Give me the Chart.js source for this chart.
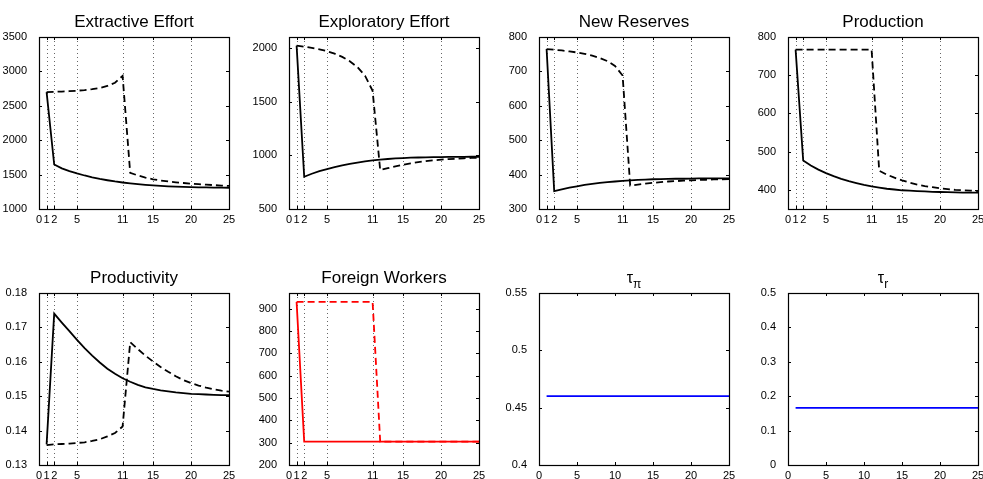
<!DOCTYPE html>
<html>
<head>
<meta charset="utf-8">
<script src="https://cdn.jsdelivr.net/npm/chart.js@4"></script>
<style>
  html, body { margin: 0; padding: 0; background: #fff; overflow: hidden; }
  #fig { position: relative; width: 983px; height: 479px; overflow: hidden; }
  #fig canvas { position: absolute; }
</style>
</head>
<body>
<div id="fig"></div>
<script>
// periods after the shock
const periods = [1,2,3,4,5,6,7,8,9,10,11,12,13,14,15,16,17,18,19,20,21,22,23,24,25];

const xTicksShock = [0,1,2,5,11,15,20,25];
const xGridShock = [1,2,5,11,15,20];
const xTicksPlain = [0,5,10,15,20,25];

const extractiveSolid = [2700,1647,1590,1550,1517,1487,1461,1438,1418,1400,1385,1372,1361,1351,1343,1336,1330,1325,1321,1318,1315,1313,1311,1310,1309];
const extractiveDashed = [2700,2703,2707,2712,2719,2729,2742,2760,2788,2835,2935,1525,1488,1457,1432,1414,1400,1388,1378,1369,1361,1354,1347,1341,1336];

const exploratorySolid = [2020,800,828,852,872,890,906,920,932,943,952,959,965,970,974,977,979,981,982,983,984,985,985,986,986];
const exploratoryDashed = [2020,2010,1998,1985,1968,1945,1915,1875,1820,1740,1600,862,880,897,912,925,936,945,953,959,964,968,972,975,977];

const reservesSolid = [765,352,357,362,366,370,373,376,378,380,382,383.5,384.5,385.5,386.5,387,387.5,388,388,388.5,389,389,389,389,389];
const reservesDashed = [765,763,761,758,755,751,746,739,730,716,688,368,371,374,376,378,380,381,382.5,383.5,384.5,385,386,386.5,387];

const productionSolid = [767,477,464,453,444,436,429,423,418,413,409,406,403,401,399,398,397,396,395,394.5,394,393.5,393,393,393];
const productionDashed = [767,767,767,767,767,767,767,767,767,767,767,450,440,432,425,419,414,410,407,404,402,400,399,398,397];

const productivitySolid = [0.136,0.1740,0.1714,0.1689,0.1664,0.1640,0.1618,0.1598,0.1580,0.1565,0.1552,0.1542,0.1533,0.1526,0.1521,0.1517,0.1514,0.1511,0.1509,0.1507,0.1506,0.1505,0.1504,0.1503,0.1503];
const productivityDashed = [0.1358,0.1360,0.1361,0.1362,0.1364,0.1366,0.1370,0.1375,0.1383,0.1393,0.1412,0.1657,0.1637,0.1618,0.1601,0.1585,0.1571,0.1558,0.1547,0.1538,0.1531,0.1525,0.1520,0.1516,0.1513];

const workersSolid = [930,305,305,305,305,305,305,305,305,305,305,305,305,305,305,305,305,305,305,305,305,305,305,305,305];
const workersDashed = [930,930,930,930,930,930,930,930,930,930,930,305,305,305,305,305,305,305,305,305,305,305,305,305,305];

const tauPi = [0.46,0.46,0.46,0.46,0.46,0.46,0.46,0.46,0.46,0.46,0.46,0.46,0.46,0.46,0.46,0.46,0.46,0.46,0.46,0.46,0.46,0.46,0.46,0.46,0.46];
const tauR = [0.166,0.166,0.166,0.166,0.166,0.166,0.166,0.166,0.166,0.166,0.166,0.166,0.166,0.166,0.166,0.166,0.166,0.166,0.166,0.166,0.166,0.166,0.166,0.166,0.166];

const yTicksExtractive = [1000,1500,2000,2500,3000,3500];
const yTicksExploratory = [500,1000,1500,2000];
const yTicksReserves = [300,400,500,600,700,800];
const yTicksProduction = [400,500,600,700,800];
const yTicksProductivity = [0.13,0.14,0.15,0.16,0.17,0.18];
const yTicksWorkers = [200,300,400,500,600,700,800,900];
const yTicksTauPi = [0.4,0.45,0.5,0.55];
const yTicksTauR = [0,0.1,0.2,0.3,0.4,0.5];

const FONT = '"Liberation Sans", Arial, sans-serif';

// box, inner ticks, dotted grid and title drawn matlab style
const matlabAxes = {
  id: 'matlabAxes',
  beforeDatasetsDraw(chart, args, opts) {
    const { ctx, chartArea: a, scales: { x } } = chart;
    ctx.save();
    ctx.strokeStyle = '#666';
    ctx.lineWidth = 1;
    ctx.setLineDash([1, 3]);
    opts.grid.forEach(v => {
      const px = Math.round(x.getPixelForValue(v)) + 0.5;
      ctx.beginPath();
      ctx.moveTo(px, a.top);
      ctx.lineTo(px, a.bottom);
      ctx.stroke();
    });
    ctx.restore();
  },
  afterDraw(chart, args, opts) {
    const { ctx, chartArea: a, scales: { x, y } } = chart;
    ctx.save();
    ctx.strokeStyle = '#000';
    ctx.lineWidth = 1.2;
    ctx.strokeRect(Math.round(a.left) + 0.5, Math.round(a.top) + 0.5,
      Math.round(a.right - a.left), Math.round(a.bottom - a.top));
    ctx.lineWidth = 1;
    const t = 3;
    x.ticks.forEach(tk => {
      const px = Math.round(x.getPixelForValue(tk.value)) + 0.5;
      ctx.beginPath();
      ctx.moveTo(px, a.bottom); ctx.lineTo(px, a.bottom - t);
      ctx.moveTo(px, a.top); ctx.lineTo(px, a.top + t);
      ctx.stroke();
    });
    y.ticks.forEach(tk => {
      const py = Math.round(y.getPixelForValue(tk.value)) + 0.5;
      ctx.beginPath();
      ctx.moveTo(a.left, py); ctx.lineTo(a.left + t, py);
      ctx.moveTo(a.right, py); ctx.lineTo(a.right - t, py);
      ctx.stroke();
    });
    ctx.fillStyle = '#000';
    ctx.textBaseline = 'alphabetic';
    const cx = (a.left + a.right) / 2;
    if (opts.sub) {
      ctx.font = '16px ' + FONT;
      const w1 = ctx.measureText(opts.title).width;
      ctx.font = '12px ' + FONT;
      const w2 = ctx.measureText(opts.sub).width;
      const x0 = cx - (w1 + w2) / 2;
      ctx.textAlign = 'left';
      ctx.font = '16px ' + FONT;
      ctx.fillText(opts.title, x0, a.top - 10);
      ctx.font = '12px ' + FONT;
      ctx.fillText(opts.sub, x0 + w1, a.top - 5);
    } else {
      ctx.font = '17px ' + FONT;
      ctx.textAlign = 'center';
      ctx.fillText(opts.title, cx, a.top - 10);
    }
    ctx.restore();
  }
};

const colLeft = [39, 289, 539, 788];
const rowTop = [37, 293];
const plotW = 190;
const padL = 40, padT = 40, axisH = 22, padR = 8;
const plotH = 172;

function line(data, color, dashed) {
  return {
    data: data,
    borderColor: color,
    borderWidth: 1.8,
    borderDash: dashed ? [7, 4] : [],
    pointRadius: 0,
    tension: 0,
    fill: false
  };
}

function makePanel(p) {
  const canvas = document.createElement('canvas');
  const w = padL + plotW + padR, h = padT + plotH + axisH;
  canvas.width = w; canvas.height = h;
  canvas.style.width = w + 'px'; canvas.style.height = h + 'px';
  canvas.style.left = (colLeft[p.col] - padL) + 'px';
  canvas.style.top = (rowTop[p.row] - padT) + 'px';
  document.getElementById('fig').appendChild(canvas);

  const datasets = [];
  if (p.dashed) datasets.push(line(p.dashed, p.color, true));
  datasets.push(line(p.solid, p.color, false));

  new Chart(canvas.getContext('2d'), {
    type: 'line',
    data: { labels: periods, datasets: datasets.map(d => ({ ...d, data: d.data.map((v, i) => ({ x: periods[i], y: v })) })) },
    options: {
      responsive: false,
      animation: false,
      devicePixelRatio: 1,
      layout: { padding: { left: 0, top: padT, right: padR, bottom: 0 } },
      plugins: {
        legend: { display: false },
        tooltip: { enabled: false },
        matlabAxes: { title: p.title, sub: p.sub, grid: p.grid }
      },
      scales: {
        x: {
          type: 'linear', min: 0, max: 25,
          grid: { display: false }, border: { display: false },
          afterBuildTicks: s => { s.ticks = p.xTicks.map(v => ({ value: v })); },
          afterFit: s => { s.height = axisH; },
          ticks: { autoSkip: false, maxRotation: 0, minRotation: 0, padding: -4, color: '#000',
            font: { family: FONT, size: 11 }, callback: v => String(v) }
        },
        y: {
          type: 'linear', min: p.yMin, max: p.yMax,
          grid: { display: false }, border: { display: false },
          afterBuildTicks: s => { s.ticks = p.yTicks.map(v => ({ value: v })); },
          afterFit: s => { s.width = padL; },
          ticks: { autoSkip: false, padding: 4, color: '#000',
            font: { family: FONT, size: 11 }, callback: v => String(v) }
        }
      }
    },
    plugins: [matlabAxes]
  });
}

const panels = [
  { title: 'Extractive Effort', row: 0, col: 0, solid: extractiveSolid, dashed: extractiveDashed, color: '#000',
    yMin: 1000, yMax: 3500, yTicks: yTicksExtractive, xTicks: xTicksShock, grid: xGridShock },
  { title: 'Exploratory Effort', row: 0, col: 1, solid: exploratorySolid, dashed: exploratoryDashed, color: '#000',
    yMin: 500, yMax: 2100, yTicks: yTicksExploratory, xTicks: xTicksShock, grid: xGridShock },
  { title: 'New Reserves', row: 0, col: 2, solid: reservesSolid, dashed: reservesDashed, color: '#000',
    yMin: 300, yMax: 800, yTicks: yTicksReserves, xTicks: xTicksShock, grid: xGridShock },
  { title: 'Production', row: 0, col: 3, solid: productionSolid, dashed: productionDashed, color: '#000',
    yMin: 350, yMax: 800, yTicks: yTicksProduction, xTicks: xTicksShock, grid: xGridShock },
  { title: 'Productivity', row: 1, col: 0, solid: productivitySolid, dashed: productivityDashed, color: '#000',
    yMin: 0.13, yMax: 0.18, yTicks: yTicksProductivity, xTicks: xTicksShock, grid: xGridShock },
  { title: 'Foreign Workers', row: 1, col: 1, solid: workersSolid, dashed: workersDashed, color: '#ff0000',
    yMin: 200, yMax: 970, yTicks: yTicksWorkers, xTicks: xTicksShock, grid: xGridShock },
  { title: 'τ', sub: 'π', row: 1, col: 2, solid: tauPi, color: '#0000ff',
    yMin: 0.4, yMax: 0.55, yTicks: yTicksTauPi, xTicks: xTicksPlain, grid: [] },
  { title: 'τ', sub: 'r', row: 1, col: 3, solid: tauR, color: '#0000ff',
    yMin: 0, yMax: 0.5, yTicks: yTicksTauR, xTicks: xTicksPlain, grid: [] }
];

panels.forEach(makePanel);
</script>
</body>
</html>
